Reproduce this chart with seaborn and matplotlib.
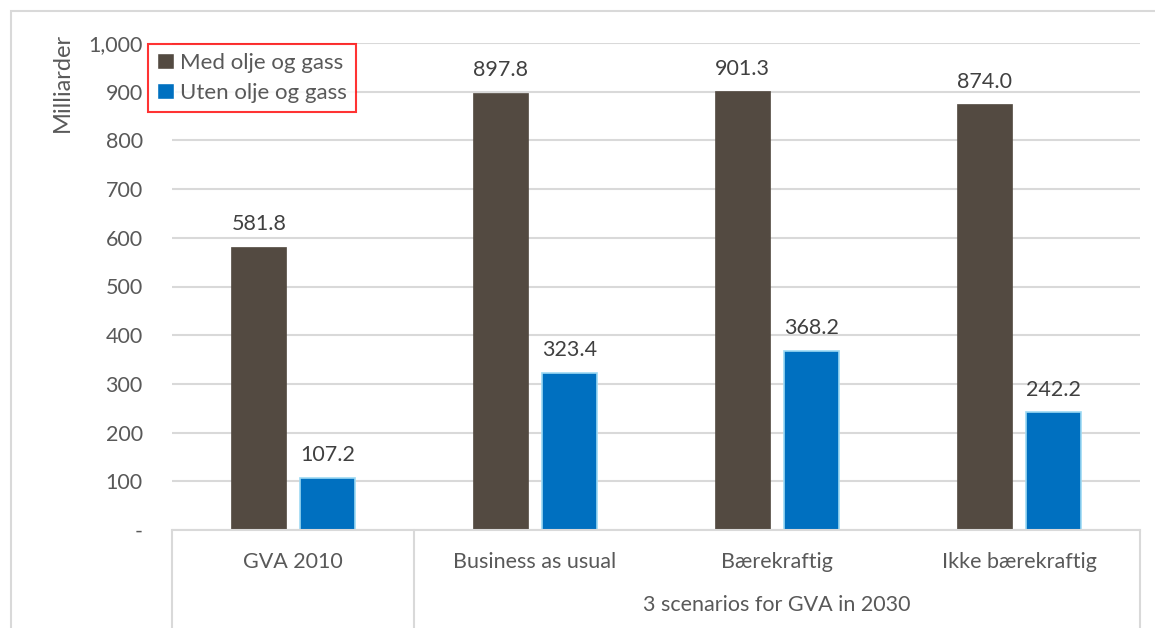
import matplotlib
matplotlib.use("Agg")
import matplotlib.pyplot as plt
import matplotlib.transforms as mtransforms
from matplotlib.patches import Rectangle
import seaborn as sns
import pandas as pd

categories = ["GVA 2010", "Business as usual", "Bærekraftig", "Ikke bærekraftig"]
series_names = ["Med olje og gass", "Uten olje og gass"]
med_values = [581.8, 897.8, 901.3, 874.0]
uten_values = [107.2, 323.4, 368.2, 242.2]
yticks = [0, 100, 200, 300, 400, 500, 600, 700, 800, 900, 1000]
ytick_labels = ["-", "100", "200", "300", "400", "500", "600", "700", "800", "900", "1,000"]
group_label = "3 scenarios for GVA in 2030"
ylabel = "Milliarder"

df = pd.DataFrame({
    "cat": categories * 2,
    "val": med_values + uten_values,
    "series": [series_names[0]] * 4 + [series_names[1]] * 4,
})

sns.set_theme(style="white")
plt.rcParams["font.family"] = ["Lato", "DejaVu Sans"]
TXT = "#595959"
GRID = "#D9D9D9"
FS = 15.5

W, H = 1155, 628
fig = plt.figure(figsize=(W / 100, H / 100), dpi=100)
ax = fig.add_axes([172 / W, (H - 530) / H, (1140 - 172) / W, (530 - 43) / H])

sns.barplot(data=df, x="cat", y="val", hue="series", order=categories,
            hue_order=series_names, palette=["#534A41", "#0070C0"],
            saturation=1, width=0.566, gap=0.2, ax=ax, legend=True)

for i, cont in enumerate(ax.containers):
    for p in cont:
        if i == 1:
            p.set_edgecolor("#9DD9F3")
            p.set_linewidth(1.2)
        else:
            p.set_edgecolor("#534A41")
            p.set_linewidth(0.5)
    ax.bar_label(cont, fmt="%.1f", padding=9, fontsize=FS, color="#404040")

ax.set_ylim(0, 1000)
ax.set_xlim(-0.5, 3.5)
ax.set_yticks(yticks)
ax.set_yticklabels(ytick_labels, fontsize=FS, color=TXT)
ax.tick_params(axis="y", length=0, pad=21)
ax.set_xticks(range(len(categories)))
ax.set_xticklabels(categories, fontsize=FS, color=TXT)
ax.tick_params(axis="x", length=0, pad=16)
ax.set_xlabel("")
ax.set_ylabel("")
ax.yaxis.grid(True, color=GRID, linewidth=1.5)
ax.set_axisbelow(True)
for s in ["left", "right", "top"]:
    ax.spines[s].set_visible(False)
ax.spines["bottom"].set_color(GRID)
ax.spines["bottom"].set_linewidth(1.5)

# category separators
trans = mtransforms.blended_transform_factory(ax.transData, ax.transAxes)
for xb in [-0.5, 0.5, 3.5]:
    ax.plot([xb, xb], [0, -0.25], transform=trans, color=GRID, linewidth=1.5,
            clip_on=False)
ax.text(2.0, -0.155, group_label, transform=trans, ha="center", va="center",
        fontsize=FS, color=TXT)

# legend
handles, labels = ax.get_legend_handles_labels()
leg = ax.legend(handles, labels, loc="upper left", bbox_to_anchor=(148 / W, 1 - 44 / H),
                bbox_transform=fig.transFigure, fontsize=16, frameon=True,
                fancybox=False, edgecolor="#FF0000", handlelength=0.75,
                handleheight=0.75, handletextpad=0.3, borderpad=0.4,
                labelspacing=0.45, borderaxespad=0)
leg.get_frame().set_linewidth(1.5)
for t in leg.get_texts():
    t.set_color(TXT)

fig.text(62 / W, 1 - 82 / H, ylabel, rotation=90, ha="center", va="center",
         fontsize=17, color=TXT)

# outer chart border
fig.patches.append(Rectangle((11 / W, -0.1), 1.2, 1 - 11 / H + 0.1,
                             transform=fig.transFigure, fill=False,
                             edgecolor=GRID, linewidth=1.5))

fig.savefig("out.png", dpi=100, facecolor="white")
